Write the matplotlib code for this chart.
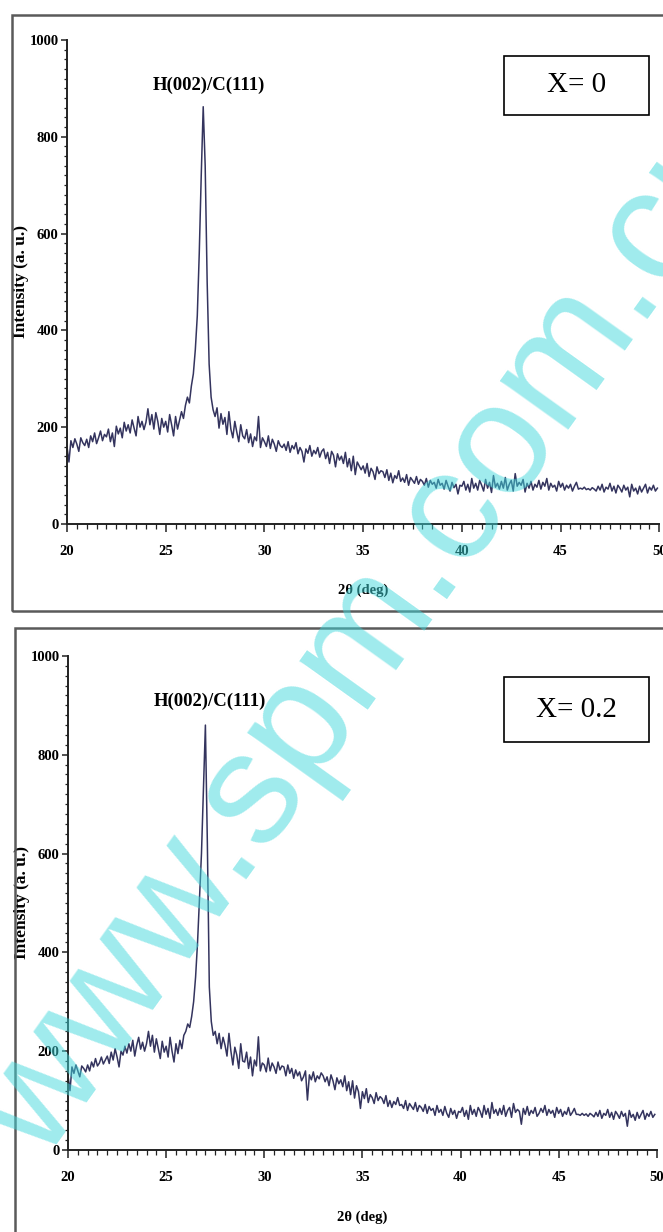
import numpy as np
import matplotlib.pyplot as plt
from matplotlib.patches import Rectangle
from matplotlib.ticker import MultipleLocator

# scan grid, 0.1 deg step from 20.0 to 49.9
two_theta = np.round(np.arange(20.0, 50.0, 0.1), 1)

# intensities, one row per degree
intensity_x0 = [
    160, 128, 172, 158, 176, 165, 150, 178, 168, 162,
    175, 158, 182, 170, 188, 166, 178, 192, 172, 185,
    180, 196, 170, 188, 160, 202, 186, 198, 178, 210,
    192, 205, 188, 215, 198, 182, 222, 200, 212, 195,
    210, 238, 205, 226, 196, 230, 212, 185, 218, 200,
    212, 190, 226, 205, 182, 222, 196, 214, 232, 218,
    245, 262, 250, 285, 310, 360, 430, 560, 720, 862,
    740, 500, 330, 262, 236, 222, 240, 198, 228, 206,
    220, 185, 232, 196, 178, 212, 190, 170, 205, 182,
    176, 195, 168, 186, 160, 180, 172, 222, 158, 178,
    170, 160, 182, 156, 175, 165, 150, 172, 162, 158,
    165, 152, 170, 148, 162, 155, 168, 145, 158, 150,
    128, 155, 146, 162, 140, 152, 145, 158, 138, 150,
    155, 135, 148, 125, 150, 142, 118, 145, 132, 140,
    125, 148, 118, 135, 110, 140, 102, 128, 120, 112,
    120, 105, 125, 98, 115, 108, 92, 118, 104, 110,
    108, 96, 112, 90, 105, 85, 100, 94, 110, 88,
    95, 86, 102, 80, 96, 90, 84, 98, 82, 92,
    88, 80, 94, 76, 90, 82, 86, 74, 92, 80,
    84, 72, 90, 78, 68, 86, 75, 82, 62, 80,
    78, 88, 70, 82, 66, 94, 74, 84, 70, 90,
    80, 68, 92, 74, 86, 65, 100, 76, 84, 72,
    88, 74, 96, 70, 82, 90, 68, 104, 78, 86,
    80, 92, 66, 84, 74, 88, 70, 82, 76, 90,
    72, 86, 78, 94, 70, 84, 76, 80, 68, 88,
    76, 84, 70, 80, 74, 82, 68, 78, 86, 72,
    74, 72, 76, 71, 73, 70, 75, 72, 68, 78,
    70, 82, 66, 76, 72, 84, 68, 78, 64, 80,
    74, 66, 80, 70, 76, 56, 82, 68, 74, 62,
    78, 66, 74, 82, 64, 76, 70, 80, 68, 74,
]

intensity_x02 = [
    150, 120, 168, 155, 172, 160, 148, 170, 165, 158,
    172, 160, 178, 168, 185, 170, 176, 188, 174, 182,
    190, 175, 198, 182, 205, 188, 168, 200, 192, 210,
    196, 215, 200, 222, 190, 212, 228, 204, 218, 200,
    215, 240, 210, 232, 198, 225, 205, 185, 220, 198,
    210, 188, 228, 200, 178, 215, 195, 222, 205, 232,
    240, 255, 248, 270, 300, 350, 420, 510, 600, 730,
    860, 620, 330, 260, 232, 240, 215, 236, 205, 228,
    212, 190, 236, 200, 172, 208, 192, 165, 215, 180,
    178, 198, 165, 188, 150, 182, 170, 229, 160, 176,
    172, 158, 186, 160, 176, 168, 155, 178, 162, 170,
    168, 150, 172, 155, 165, 145, 162, 150, 158, 140,
    148, 160, 101, 152, 142, 158, 138, 150, 144, 156,
    150, 138, 148, 130, 152, 140, 122, 146, 134, 142,
    128, 150, 120, 138, 112, 140, 105, 130, 118, 84,
    118, 104, 124, 96, 112, 106, 94, 116, 100, 108,
    104, 94, 110, 88, 100, 86, 98, 92, 106, 90,
    92, 84, 100, 80, 94, 88, 82, 96, 78, 90,
    86, 78, 92, 74, 88, 80, 84, 70, 90, 76,
    82, 70, 88, 74, 66, 84, 72, 80, 64, 78,
    76, 86, 68, 80, 62, 90, 72, 82, 68, 86,
    78, 66, 90, 72, 84, 64, 96, 74, 82, 70,
    84, 72, 90, 68, 80, 86, 66, 94, 76, 82,
    78, 52, 84, 72, 88, 70, 80, 74, 86, 68,
    74, 84, 76, 90, 70, 82, 74, 80, 66, 86,
    74, 82, 68, 78, 72, 86, 70, 76, 84, 72,
    72, 70, 74, 70, 73, 68, 74, 71, 67, 76,
    68, 80, 64, 74, 70, 82, 66, 76, 62, 78,
    72, 64, 78, 68, 74, 48, 80, 66, 72, 60,
    76, 64, 72, 80, 62, 74, 68, 78, 66, 72,
]

panel_labels = ["X= 0", "X= 0.2"]
peak_label = "H(002)/C(111)"
x_label = "2θ (deg)"
y_label = "Intensity (a. u.)"
watermark = "www.spm.com.cn"

serif = "Liberation Serif"
line_color = "#34345e"

fig = plt.figure(figsize=(6.63, 12.32), dpi=100)

# outer frames around each panel
fig.patches.append(Rectangle((0.018, 0.504), 1.1, 0.484, transform=fig.transFigure,
                             fill=False, edgecolor="#5a5a5a", linewidth=1.8))
fig.patches.append(Rectangle((0.023, -0.1), 1.1, 0.59, transform=fig.transFigure,
                             fill=False, edgecolor="#5a5a5a", linewidth=1.8))

ax_top = fig.add_axes([0.101, 0.5747, 0.8935, 0.3929])
ax_bot = fig.add_axes([0.1026, 0.0666, 0.888, 0.401])

panels = [
    (ax_top, intensity_x0, panel_labels[0], (27.2, 907), [0.760, 0.9067, 0.219, 0.0479]),
    (ax_bot, intensity_x02, panel_labels[1], (27.23, 909), [0.760, 0.3977, 0.219, 0.0528]),
]

for ax, values, label, peak_pos, box in panels:
    ax.set_facecolor("none")
    ax.plot(two_theta, values, color=line_color, linewidth=1.1)
    ax.set_xlim(20, 50)
    ax.set_ylim(0, 1000)

    for side in ["top", "right"]:
        ax.spines[side].set_visible(False)
    for side in ["left", "bottom"]:
        ax.spines[side].set_color("#222222")
        ax.spines[side].set_linewidth(1.4)

    ax.xaxis.set_major_locator(MultipleLocator(5))
    ax.xaxis.set_minor_locator(MultipleLocator(0.5))
    ax.yaxis.set_major_locator(MultipleLocator(200))
    ax.yaxis.set_minor_locator(MultipleLocator(20))
    ax.tick_params(axis="x", which="major", length=6, width=1.1, pad=9, color="#222222")
    ax.tick_params(axis="x", which="minor", length=3.5, width=0.9, color="#222222")
    ax.tick_params(axis="y", which="major", length=4, width=1.1, pad=2, color="#222222")
    ax.tick_params(axis="y", which="minor", length=2.5, width=0.9, color="#222222")
    for tl in ax.get_xticklabels() + ax.get_yticklabels():
        tl.set_fontfamily(serif)
        tl.set_fontweight("bold")
        tl.set_fontsize(10.5)

    ax.set_xlabel(x_label, fontfamily=serif, fontweight="bold", fontsize=10.5)
    ax.xaxis.set_label_coords(0.5, -0.122)
    ax.set_ylabel(y_label, fontfamily=serif, fontweight="bold", fontsize=12.5)
    ax.yaxis.set_label_coords(-0.064, 0.5)

    ax.text(peak_pos[0], peak_pos[1], peak_label, ha="center", va="center",
            fontfamily=serif, fontweight="bold", fontsize=13.5)

    # sample label box
    fig.patches.append(Rectangle((box[0], box[1]), box[2], box[3], transform=fig.transFigure,
                                 facecolor="white", edgecolor="black", linewidth=1.2))
    fig.text(box[0] + box[2] / 2, box[1] + box[3] / 2, label, ha="center", va="center",
             fontfamily=serif, fontsize=21)

fig.text(0.065, 0.0552, watermark, rotation=54.4, rotation_mode="anchor",
         ha="left", va="baseline", fontfamily="Liberation Sans", fontsize=114.5,
         color="#40d8dc", alpha=0.5, zorder=10)

fig.savefig("out.png", dpi=100)
